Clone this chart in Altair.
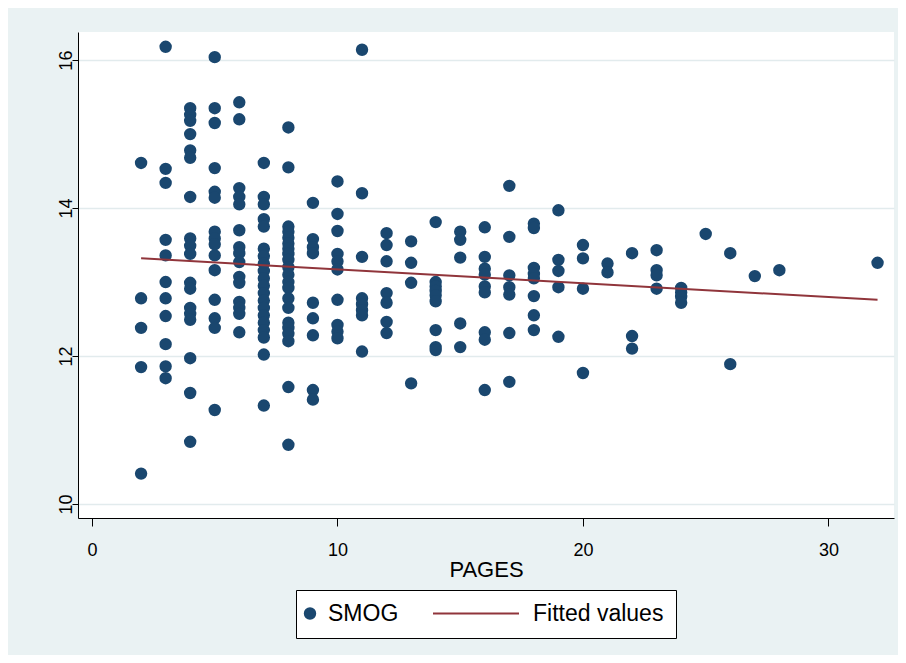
import altair as alt
import pandas as pd

NAVY = "#1a476f"
MAROON = "#90353b"
BG = "#eaf2f3"
FONT = "Liberation Sans, Arial, sans-serif"

# SMOG readings by number of PAGES
s02 = [14.61, 12.78, 12.38, 11.85, 10.41]
s03 = [16.18, 14.53, 14.34, 13.57, 13.36, 13.00, 12.78, 12.54, 12.16, 11.86, 11.70]
s04 = [15.35, 15.26, 15.18, 15.00, 14.78, 14.68, 14.15, 13.59, 13.49, 13.38, 12.99,
       12.91, 12.65, 12.57, 12.49, 11.97, 11.50, 10.84]
s05 = [16.04, 15.35, 15.15, 14.54, 14.22, 14.14, 13.68, 13.59, 13.51, 13.36, 13.16,
       12.76, 12.51, 12.38, 11.27]
s06 = [15.43, 15.20, 14.27, 14.15, 14.05, 13.70, 13.47, 13.39, 13.27, 13.07, 12.99,
       12.73, 12.65, 12.57, 12.32]
s07 = [14.61, 14.15, 14.05, 13.85, 13.75, 13.45, 13.35, 13.25, 13.15, 13.05, 12.95,
       12.85, 12.75, 12.65, 12.55, 12.45, 12.35, 12.25, 12.02, 11.33]
s08 = [15.09, 14.55, 13.75, 13.68, 13.60, 13.52, 13.45, 13.38, 13.30, 13.20, 13.10,
       13.00, 12.92, 12.78, 12.65, 12.45, 12.38, 12.30, 12.20, 11.58, 10.80]
s09 = [14.07, 13.58, 13.47, 13.39, 12.72, 12.51, 12.28, 11.54, 11.41]
s10 = [14.36, 13.92, 13.69, 13.38, 13.28, 13.17, 12.76, 12.42, 12.33, 12.24]
s11 = [16.14, 14.20, 13.34, 12.78, 12.70, 12.62, 12.55, 12.06]
s12 = [13.66, 13.50, 13.28, 12.85, 12.72, 12.46, 12.31]
s13 = [13.55, 13.26, 12.99, 11.63]
s14 = [13.81, 13.00, 12.94, 12.88, 12.82, 12.74, 12.35, 12.12, 12.08]
s15 = [13.68, 13.57, 13.33, 12.44, 12.12]
s16 = [13.74, 13.34, 13.18, 13.10, 12.94, 12.86, 12.32, 12.22, 11.54]
s17 = [14.30, 13.61, 13.09, 12.93, 12.83, 12.31, 11.65]
s18 = [13.79, 13.73, 13.19, 13.11, 13.05, 12.81, 12.55, 12.35]
s19 = [13.97, 13.30, 13.15, 12.93, 12.26]
s20 = [13.50, 13.32, 12.91, 11.77]
s21 = [13.25, 13.13]
s22 = [13.39, 12.27, 12.10]
s23 = [13.43, 13.16, 13.09, 12.91]
s24 = [12.92, 12.86, 12.80, 12.72]
s25 = [13.65]
s26 = [13.39, 11.89]
s27 = [13.08]
s28 = [13.16]
s32 = [13.26]

page_groups = [(2, s02), (3, s03), (4, s04), (5, s05), (6, s06), (7, s07), (8, s08),
               (9, s09), (10, s10), (11, s11), (12, s12), (13, s13), (14, s14),
               (15, s15), (16, s16), (17, s17), (18, s18), (19, s19), (20, s20),
               (21, s21), (22, s22), (23, s23), (24, s24), (25, s25), (26, s26),
               (27, s27), (28, s28), (32, s32)]

# Fitted line end points
fit_pages = [2, 32]
fit_values = [13.32, 12.76]

x_ticks = [0, 10, 20, 30]
y_ticks = [10, 12, 14, 16]

rows = [{"PAGES": p, "SMOG": v, "series": "SMOG"} for p, vals in page_groups for v in vals]
scatter_df = pd.DataFrame(rows)
fit_df = pd.DataFrame({"PAGES": fit_pages, "SMOG": fit_values,
                       "series": ["Fitted values"] * len(fit_pages)})

x_enc = alt.X("PAGES:Q",
              scale=alt.Scale(domain=[-0.57, 32.67], nice=False, zero=False),
              axis=alt.Axis(values=x_ticks, format="d", title="PAGES", grid=False,
                            tickSize=8, labelPadding=15, labelFontSize=18,
                            labelFont=FONT, titleFont=FONT, titleFontSize=22,
                            titleFontWeight="normal", titleY=51.5,
                            titleBaseline="middle", domainColor="black",
                            tickColor="black", labelColor="black",
                            titleColor="black", labelFlush=False))
y_enc = alt.Y("SMOG:Q",
              scale=alt.Scale(domain=[9.81, 16.38], nice=False, zero=False),
              axis=alt.Axis(values=y_ticks, format="d", title=None, grid=True,
                            gridColor="#e2ebed", gridWidth=1.5, tickSize=6,
                            labelPadding=1, labelAngle=270, labelAlign="center",
                            labelBaseline="alphabetic", labelFontSize=18,
                            labelFont=FONT, domainColor="black", tickColor="black",
                            labelColor="black", labelFlush=False))

points = alt.Chart(scatter_df).mark_circle(size=154, opacity=1).encode(
    x=x_enc,
    y=y_enc,
    color=alt.Color("series:N",
                    scale=alt.Scale(domain=["SMOG"], range=[NAVY]),
                    legend=alt.Legend(title=None, orient="none", legendX=220.5,
                                      legendY=570, direction="horizontal",
                                      symbolType="circle", symbolSize=154,
                                      symbolStrokeWidth=0, labelFontSize=23,
                                      labelFont=FONT, labelColor="black",
                                      labelOffset=6.5, padding=0, zindex=2)),
)

line = alt.Chart(fit_df).mark_line(strokeWidth=2).encode(
    x="PAGES:Q",
    y="SMOG:Q",
    stroke=alt.Stroke("series:N",
                      scale=alt.Scale(domain=["Fitted values"], range=[MAROON]),
                      legend=alt.Legend(title=None, orient="none", legendX=218,
                                        legendY=558, direction="horizontal",
                                        symbolType="stroke", symbolSize=7396,
                                        symbolStrokeWidth=2, symbolOffset=124,
                                        clipHeight=23, labelFontSize=23,
                                        labelFont=FONT, labelColor="black",
                                        labelOffset=13, padding=12,
                                        fillColor="white", strokeColor="black",
                                        zindex=1)),
)

chart = alt.layer(points, line).properties(
    width=816,
    height=486,
    background=BG,
    padding={"left": 70, "top": 24, "right": 4, "bottom": 137},
    autosize=alt.AutoSizeParams(type="none"),
).configure_view(strokeWidth=0, fill="white")

chart.save("out.html", embed_options={"renderer": "svg", "actions": False})
